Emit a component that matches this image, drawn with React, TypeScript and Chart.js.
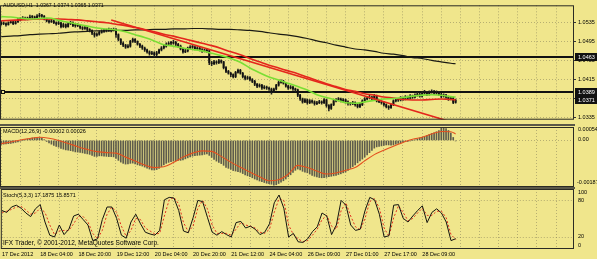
import React, { useEffect, useRef } from 'react';
import { Chart, registerables } from 'chart.js';
Chart.register(...registerables);

const FONT = '"Liberation Sans", Arial, sans-serif';
const BG = '#F0E68C';
const GRID = 'rgba(125,120,85,0.5)';
const SEP = '#5a5848';

// ---------- main window (AUDUSD H1) ----------
const symbolTitle = 'AUDUSD,H1  1.0367 1.0374 1.0365 1.0371';
const firstOpen = 1.0531;
const closes = [
  1.0534, 1.0532, 1.0530, 1.0534, 1.0536, 1.0532, 1.0536, 1.0540, 1.0542, 1.0544,
  1.0542, 1.0544, 1.0546, 1.0546, 1.0544, 1.0548, 1.0550, 1.0548, 1.0542, 1.0538,
  1.0536, 1.0538, 1.0534, 1.0532, 1.0534, 1.0526, 1.0530, 1.0526, 1.0532, 1.0534,
  1.0528, 1.0530, 1.0528, 1.0524, 1.0522, 1.0524, 1.0520, 1.0518, 1.0512, 1.0508,
  1.0510, 1.0514, 1.0516, 1.0518, 1.0518, 1.0520, 1.0518, 1.0520, 1.0509, 1.0499,
  1.0491, 1.0487, 1.0483, 1.0485, 1.0495, 1.0499, 1.0495, 1.0489, 1.0485, 1.0481,
  1.0477, 1.0473, 1.0469, 1.0471, 1.0467, 1.0471, 1.0477, 1.0481, 1.0485, 1.0489,
  1.0491, 1.0491, 1.0493, 1.0489, 1.0485, 1.0479, 1.0473, 1.0475, 1.0481, 1.0483,
  1.0483, 1.0479, 1.0481, 1.0477, 1.0475, 1.0477, 1.0475, 1.0450, 1.0448, 1.0452,
  1.0450, 1.0454, 1.0452, 1.0440, 1.0432, 1.0428, 1.0425, 1.0421, 1.0430, 1.0434,
  1.0428, 1.0421, 1.0417, 1.0419, 1.0415, 1.0411, 1.0405, 1.0401, 1.0403, 1.0397,
  1.0399, 1.0397, 1.0395, 1.0389, 1.0395, 1.0403, 1.0409, 1.0411, 1.0407, 1.0401,
  1.0397, 1.0399, 1.0395, 1.0393, 1.0382, 1.0374, 1.0368, 1.0372, 1.0366, 1.0370,
  1.0368, 1.0364, 1.0366, 1.0368, 1.0366, 1.0372, 1.0360, 1.0354, 1.0362, 1.0370,
  1.0372, 1.0374, 1.0370, 1.0372, 1.0368, 1.0364, 1.0364, 1.0366, 1.0362, 1.0358,
  1.0362, 1.0370, 1.0374, 1.0376, 1.0378, 1.0374, 1.0380, 1.0370, 1.0368, 1.0366,
  1.0362, 1.0358, 1.0356, 1.0362, 1.0370, 1.0372, 1.0372, 1.0376, 1.0374, 1.0378,
  1.0376, 1.0380, 1.0378, 1.0382, 1.0384, 1.0380, 1.0386, 1.0388, 1.0384, 1.0388,
  1.0390, 1.0386, 1.0388, 1.0384, 1.0380, 1.0382, 1.0378, 1.0374, 1.0376, 1.0367,
  1.0371,
];
const highs = [
  1.0537, 1.0536, 1.0534, 1.0536, 1.0539, 1.0538, 1.0538, 1.0543, 1.0545, 1.0547,
  1.0546, 1.0546, 1.0550, 1.0549, 1.0548, 1.0551, 1.0554, 1.0552, 1.0549, 1.0544,
  1.0540, 1.0541, 1.0540, 1.0536, 1.0537, 1.0535, 1.0533, 1.0532, 1.0535, 1.0537,
  1.0536, 1.0533, 1.0532, 1.0531, 1.0526, 1.0527, 1.0526, 1.0522, 1.0519, 1.0514,
  1.0513, 1.0517, 1.0519, 1.0521, 1.0521, 1.0523, 1.0522, 1.0523, 1.0522, 1.0511,
  1.0501, 1.0494, 1.0489, 1.0488, 1.0497, 1.0502, 1.0501, 1.0496, 1.0491, 1.0487,
  1.0483, 1.0479, 1.0475, 1.0474, 1.0473, 1.0474, 1.0479, 1.0484, 1.0488, 1.0492,
  1.0494, 1.0495, 1.0497, 1.0495, 1.0491, 1.0487, 1.0481, 1.0478, 1.0483, 1.0486,
  1.0486, 1.0485, 1.0484, 1.0483, 1.0480, 1.0479, 1.0480, 1.0477, 1.0453, 1.0455,
  1.0454, 1.0457, 1.0456, 1.0453, 1.0442, 1.0434, 1.0430, 1.0427, 1.0432, 1.0437,
  1.0436, 1.0430, 1.0423, 1.0422, 1.0421, 1.0417, 1.0413, 1.0407, 1.0406, 1.0405,
  1.0402, 1.0401, 1.0399, 1.0397, 1.0397, 1.0405, 1.0412, 1.0414, 1.0413, 1.0409,
  1.0403, 1.0402, 1.0401, 1.0397, 1.0395, 1.0384, 1.0376, 1.0375, 1.0374, 1.0373,
  1.0372, 1.0370, 1.0369, 1.0371, 1.0370, 1.0375, 1.0374, 1.0362, 1.0364, 1.0372,
  1.0375, 1.0377, 1.0376, 1.0375, 1.0374, 1.0370, 1.0367, 1.0369, 1.0368, 1.0364,
  1.0365, 1.0372, 1.0377, 1.0379, 1.0382, 1.0380, 1.0384, 1.0382, 1.0372, 1.0370,
  1.0368, 1.0364, 1.0360, 1.0364, 1.0372, 1.0375, 1.0375, 1.0379, 1.0378, 1.0381,
  1.0380, 1.0383, 1.0382, 1.0385, 1.0388, 1.0386, 1.0389, 1.0392, 1.0390, 1.0391,
  1.0393, 1.0392, 1.0391, 1.0390, 1.0386, 1.0385, 1.0384, 1.0380, 1.0379, 1.0378,
  1.0374,
];
const lows = [
  1.0529, 1.0530, 1.0527, 1.0529, 1.0533, 1.0530, 1.0531, 1.0535, 1.0538, 1.0541,
  1.0540, 1.0540, 1.0543, 1.0543, 1.0542, 1.0543, 1.0546, 1.0545, 1.0540, 1.0536,
  1.0533, 1.0535, 1.0532, 1.0529, 1.0530, 1.0523, 1.0524, 1.0523, 1.0525, 1.0530,
  1.0526, 1.0525, 1.0526, 1.0521, 1.0519, 1.0520, 1.0517, 1.0515, 1.0509, 1.0504,
  1.0506, 1.0508, 1.0512, 1.0514, 1.0515, 1.0516, 1.0515, 1.0517, 1.0503, 1.0496,
  1.0488, 1.0484, 1.0480, 1.0481, 1.0483, 1.0493, 1.0492, 1.0487, 1.0482, 1.0478,
  1.0474, 1.0470, 1.0466, 1.0467, 1.0463, 1.0465, 1.0469, 1.0475, 1.0479, 1.0483,
  1.0487, 1.0488, 1.0489, 1.0486, 1.0483, 1.0477, 1.0470, 1.0471, 1.0473, 1.0479,
  1.0480, 1.0477, 1.0477, 1.0475, 1.0472, 1.0473, 1.0472, 1.0446, 1.0444, 1.0446,
  1.0447, 1.0448, 1.0449, 1.0437, 1.0429, 1.0426, 1.0421, 1.0418, 1.0419, 1.0428,
  1.0426, 1.0418, 1.0414, 1.0415, 1.0412, 1.0408, 1.0402, 1.0398, 1.0399, 1.0394,
  1.0395, 1.0394, 1.0392, 1.0384, 1.0387, 1.0393, 1.0401, 1.0407, 1.0405, 1.0399,
  1.0394, 1.0395, 1.0392, 1.0390, 1.0379, 1.0371, 1.0365, 1.0366, 1.0363, 1.0364,
  1.0365, 1.0361, 1.0362, 1.0364, 1.0363, 1.0364, 1.0357, 1.0349, 1.0352, 1.0360,
  1.0368, 1.0370, 1.0368, 1.0368, 1.0365, 1.0361, 1.0361, 1.0362, 1.0359, 1.0355,
  1.0356, 1.0360, 1.0368, 1.0372, 1.0374, 1.0372, 1.0372, 1.0368, 1.0366, 1.0363,
  1.0359, 1.0355, 1.0352, 1.0354, 1.0360, 1.0368, 1.0369, 1.0370, 1.0371, 1.0372,
  1.0373, 1.0374, 1.0375, 1.0376, 1.0380, 1.0378, 1.0378, 1.0384, 1.0381, 1.0382,
  1.0386, 1.0384, 1.0384, 1.0381, 1.0377, 1.0378, 1.0375, 1.0371, 1.0372, 1.0364,
  1.0365,
];
// moving averages, one value every 4 bars (last = final bar)
const maGreen = [
  1.0547, 1.0546, 1.0544, 1.0542, 1.0543, 1.0544, 1.0539, 1.0535, 1.0531, 1.0527,
  1.0523, 1.0521, 1.0519, 1.0515, 1.0509, 1.0503, 1.0496, 1.0488, 1.0485, 1.0481,
  1.0478, 1.0475, 1.0470, 1.0465, 1.0459, 1.0451, 1.0439, 1.0429, 1.0420, 1.0414,
  1.0407, 1.0400, 1.0393, 1.0383, 1.0377, 1.0372, 1.0366, 1.0365, 1.0368, 1.0371,
  1.0374, 1.0375, 1.0377, 1.0380, 1.0382, 1.0383, 1.0382, 1.0379, 1.0378,
];
const maRed = [
  1.0538, 1.0539, 1.0540, 1.0541, 1.0542, 1.0542, 1.0542, 1.0541, 1.0540, 1.0538,
  1.0536, 1.0534, 1.0531, 1.0528, 1.0524, 1.0520, 1.0515, 1.0510, 1.0506, 1.0501,
  1.0496, 1.0491, 1.0486, 1.0480, 1.0473, 1.0467, 1.0459, 1.0452, 1.0445, 1.0439,
  1.0433, 1.0427, 1.0420, 1.0413, 1.0406, 1.0400, 1.0394, 1.0390, 1.0385, 1.0382,
  1.0378, 1.0376, 1.0373, 1.0372, 1.0372, 1.0373, 1.0374, 1.0373, 1.0372,
];
const maBlack = [
  1.0505, 1.0506, 1.0507, 1.0509, 1.0510, 1.0511, 1.0512, 1.0514, 1.0515, 1.0516,
  1.0517, 1.0517, 1.0518, 1.0518, 1.0519, 1.0519, 1.0520, 1.0520, 1.0521, 1.0521,
  1.0522, 1.0522, 1.0521, 1.0520, 1.0520, 1.0519, 1.0518, 1.0516, 1.0513, 1.0510,
  1.0508, 1.0505, 1.0501, 1.0496, 1.0492, 1.0487, 1.0483, 1.0479, 1.0477, 1.0474,
  1.0470, 1.0468, 1.0465, 1.0461, 1.0459, 1.0455, 1.0452, 1.0449, 1.0448,
];
const trendBars = [46, 190];
const trendPrices = [1.0540, 1.0323];
const hLevels = [1.0463, 1.0389];
const priceTags = [1.0463, 1.0389, 1.0371];
const priceTicks = [1.0535, 1.0495, 1.0455, 1.0415, 1.0375, 1.0335];
const priceMin = 1.03305;
const priceMax = 1.05707;

// ---------- time axis ----------
const timeTicks = [
  '17 Dec 2012', '18 Dec 04:00', '18 Dec 20:00', '19 Dec 12:00', '20 Dec 04:00', '20 Dec 20:00',
  '21 Dec 12:00', '24 Dec 04:00', '26 Dec 09:00', '27 Dec 01:00', '27 Dec 17:00', '28 Dec 09:00',
];
const SLOTS = 240;

// ---------- MACD ----------
const macdTitle = 'MACD(12,26,9) -0.00002 0.00026';
const macdHist = [
  -0.00016, -0.00015, -0.00014, -0.00013, -0.00012, -0.0001, -0.00008, -0.00006, -0.00003, 0,
  0.00003, 0.00006, 0.00008, 0.0001, 0.00011, 0.00012, 0.00011, 0.00008, 0.00003, -0.00004,
  -0.0001, -0.00015, -0.0002, -0.00024, -0.00027, -0.00032, -0.00035, -0.00038, -0.00039, -0.00041,
  -0.00043, -0.00046, -0.00047, -0.00048, -0.0005, -0.00052, -0.00054, -0.00056, -0.0006, -0.00064,
  -0.00064, -0.00062, -0.00062, -0.00063, -0.00064, -0.00065, -0.00065, -0.00066, -0.00072, -0.0008,
  -0.00087, -0.00092, -0.00095, -0.00094, -0.00092, -0.00091, -0.00094, -0.00098, -0.001, -0.00103,
  -0.00107, -0.00111, -0.00115, -0.00118, -0.00119, -0.00117, -0.00112, -0.00105, -0.00098, -0.00092,
  -0.00088, -0.00085, -0.00083, -0.00081, -0.0008, -0.0008, -0.00078, -0.00074, -0.0007, -0.00066,
  -0.00063, -0.00061, -0.0006, -0.00059, -0.00058, -0.00056, -0.00054, -0.0006, -0.00068, -0.00076,
  -0.00083, -0.00088, -0.00093, -0.001, -0.00108, -0.00112, -0.00116, -0.00121, -0.00123, -0.00125,
  -0.00128, -0.00133, -0.00138, -0.00142, -0.00146, -0.0015, -0.00155, -0.00159, -0.00163, -0.00166,
  -0.00169, -0.00172, -0.00174, -0.00176, -0.0018, -0.00178, -0.00173, -0.00168, -0.00162, -0.00155,
  -0.00146, -0.00138, -0.00128, -0.0012, -0.00115, -0.00118, -0.00124, -0.00127, -0.0013, -0.00135,
  -0.0014, -0.00144, -0.00147, -0.00149, -0.0015, -0.0015, -0.00148, -0.00146, -0.00144, -0.00142,
  -0.0014, -0.00137, -0.00134, -0.0013, -0.00127, -0.0012, -0.00112, -0.00105, -0.00098, -0.0009,
  -0.00082, -0.00075, -0.00067, -0.00058, -0.00049, -0.0004, -0.00031, -0.00026, -0.00024, -0.00022,
  -0.0002, -0.00018, -0.00018, -0.00019, -0.00018, -0.00015, -0.00012, -0.0001, -0.00007, -0.00005,
  -0.00004, -0.00002, 0, 0.00002, 0.00006, 0.0001, 0.00013, 0.00016, 0.0002, 0.00024,
  0.00028, 0.00031, 0.00035, 0.0004, 0.00054, 0.0005, 0.00048, 0.0004, 0.0003, 0.00012,
  -0.00002,
];
const macdSignal = [
  -0.00013, -0.00006, 0.00002, 0.00008, 0.00013, 0.00009, 0, -0.00012, -0.00025, -0.00036,
  -0.00045, -0.00049, -0.00051, -0.00067, -0.00083, -0.00099, -0.00109, -0.00106, -0.00089, -0.00067,
  -0.00051, -0.00042, -0.00044, -0.00064, -0.00087, -0.00108, -0.00127, -0.00146, -0.00162, -0.00158,
  -0.00136, -0.001, -0.00109, -0.00123, -0.00135, -0.00131, -0.0012, -0.00109, -0.00082, -0.00057,
  -0.00039, -0.00023, -0.00008, 0.00005, 0.00013, 0.00026, 0.00036, 0.00035, 0.00026,
];
const macdMax = 0.00054;
const macdMin = -0.00187;

// ---------- Stochastic ----------
const stochTitle = 'Stoch(5,3,3) 17.1875 15.8571';
const copyright = 'IFX Trader, © 2001-2012, MetaQuotes Software Corp.';
// one value every 2 bars (last = final bar)
const stochK = [
  64, 61, 70, 73, 68, 60, 54, 67, 74, 45, 23, 20, 40, 24, 33, 55, 58, 49, 40, 14,
  17, 49, 70, 70, 51, 23, 18, 45, 58, 42, 28, 25, 23, 31, 82, 86, 85, 64, 30, 27,
  52, 81, 79, 53, 28, 23, 29, 24, 20, 44, 46, 35, 38, 33, 24, 28, 42, 77, 90, 68,
  20, 26, 12, 11, 17, 29, 37, 60, 55, 24, 40, 81, 73, 40, 31, 33, 64, 86, 82, 58,
  20, 22, 73, 74, 51, 45, 55, 64, 72, 44, 61, 67, 60, 45, 14, 17.1875,
];
const stochD = [
  61, 63, 66, 70, 71, 65, 58, 60, 68, 61, 40, 24, 30, 31, 31, 42, 55, 54, 45, 26,
  17, 31, 58, 70, 61, 38, 21, 31, 51, 49, 35, 30, 25, 26, 55, 82, 86, 75, 44, 29,
  38, 68, 81, 67, 40, 26, 26, 26, 23, 33, 44, 40, 38, 35, 28, 26, 33, 61, 84, 81,
  40, 24, 17, 12, 14, 23, 33, 49, 56, 38, 33, 64, 77, 55, 37, 32, 51, 79, 84, 68,
  35, 21, 52, 72, 61, 47, 51, 60, 68, 56, 56, 63, 63, 52, 24, 15.8571,
];
const stochLevels = [20, 80];

// ---------- derived tables for the library ----------
const BARS = closes.length;
const categories = Array.from({ length: SLOTS }, (_, i) =>
  i % 16 === 0 && timeTicks[i / 16] ? timeTicks[i / 16] : ''
);
const opens = closes.map((c, i) => (i === 0 ? firstOpen : closes[i - 1]));
const wickData = closes.map((_, i) => [lows[i], highs[i]]);
const bodyData = closes.map((c, i) => [Math.min(opens[i], c), Math.max(opens[i], c)]);
const spread = (vals: number[], stride: number) => {
  const a: (number | null)[] = new Array(BARS).fill(null);
  vals.forEach((v, k) => {
    a[Math.min(k * stride, BARS - 1)] = v;
  });
  return a;
};
const trendData = (() => {
  const a: (number | null)[] = new Array(BARS).fill(null);
  trendBars.forEach((b, k) => (a[b] = trendPrices[k]));
  return a;
})();

function txt(ctx: CanvasRenderingContext2D, s: string, x: number, y: number, size: number, color = '#000') {
  ctx.font = `${size}px ${FONT}`;
  ctx.fillStyle = color;
  ctx.textAlign = 'left';
  ctx.textBaseline = 'middle';
  ctx.fillText(s, x, y);
}
function frame(chart: any) {
  const { ctx, chartArea: a } = chart;
  ctx.save();
  ctx.strokeStyle = '#2b2b24';
  ctx.lineWidth = 1;
  ctx.strokeRect(a.left + 0.5, a.top + 0.5, a.right - a.left - 1, a.bottom - a.top - 1);
  ctx.restore();
}

const xScale = (showLabels: boolean) => ({
  type: 'category',
  offset: true,
  grid: {
    display: true,
    offset: false,
    drawTicks: false,
    color: (c: any) => (c.index % 8 === 0 ? GRID : 'rgba(0,0,0,0)'),
  },
  border: { display: false, dash: [1, 2] },
  ticks: {
    display: showLabels,
    autoSkip: false,
    maxRotation: 0,
    minRotation: 0,
    align: 'start',
    padding: 2,
    color: '#000',
    font: { family: FONT, size: 5.5 },
    callback: (_v: any, i: number) => categories[i],
  },
  afterFit: (s: any) => {
    s.height = showLabels ? 10 : 0;
  },
});

const baseOpts = {
  responsive: false,
  maintainAspectRatio: false,
  animation: false,
  devicePixelRatio: 1,
  events: [],
  plugins: { legend: { display: false }, tooltip: { enabled: false } },
};

function makeMain(canvas: HTMLCanvasElement) {
  return new Chart(canvas, {
    type: 'bar',
    data: {
      labels: categories,
      datasets: [
        { type: 'line', data: trendData, borderColor: '#E4261C', borderWidth: 1.6, pointRadius: 0, spanGaps: true, order: 0 },
        { type: 'line', data: spread(maGreen, 4), borderColor: '#7ADE34', borderWidth: 1.6, pointRadius: 0, spanGaps: true, cubicInterpolationMode: 'monotone', order: 1 },
        { type: 'line', data: spread(maRed, 4), borderColor: '#E4261C', borderWidth: 1.6, pointRadius: 0, spanGaps: true, cubicInterpolationMode: 'monotone', order: 2 },
        { type: 'line', data: spread(maBlack, 4), borderColor: '#1a1a14', borderWidth: 1.2, pointRadius: 0, spanGaps: true, cubicInterpolationMode: 'monotone', order: 3 },
        { type: 'bar', data: bodyData, backgroundColor: '#111', barThickness: 1.2, minBarLength: 1, grouped: false, order: 4 },
        { type: 'bar', data: wickData, backgroundColor: '#222', barThickness: 0.9, grouped: false, order: 5 },
      ],
    } as any,
    options: {
      ...baseOpts,
      layout: { padding: { top: 1, bottom: 1, left: 0, right: 0 } },
      scales: {
        x: xScale(false),
        y: {
          position: 'right',
          min: priceMin,
          max: priceMax,
          afterBuildTicks: (s: any) => {
            s.ticks = priceTicks.map((v) => ({ value: v }));
          },
          ticks: { color: '#000', padding: 2, font: { family: FONT, size: 5.5 }, callback: (v: any) => Number(v).toFixed(4) },
          grid: { color: GRID, drawTicks: true, tickLength: 2, tickColor: '#333', tickBorderDash: [] },
          border: { display: false, dash: [1, 2] },
          afterFit: (s: any) => {
            s.width = 23;
          },
        },
      },
    } as any,
    plugins: [
      {
        id: 'mainDecor',
        beforeDatasetsDraw(chart: any) {
          const { ctx, chartArea: a, scales } = chart;
          ctx.save();
          ctx.strokeStyle = '#111';
          ctx.lineWidth = 2;
          hLevels.forEach((v) => {
            const y = Math.round(scales.y.getPixelForValue(v));
            ctx.beginPath();
            ctx.moveTo(a.left, y);
            ctx.lineTo(a.right, y);
            ctx.stroke();
          });
          const y2 = Math.round(scales.y.getPixelForValue(hLevels[1]));
          ctx.lineWidth = 1;
          ctx.fillStyle = BG;
          ctx.fillRect(1, y2 - 2, 4, 4);
          ctx.strokeRect(1.5, y2 - 1.5, 3, 3);
          ctx.restore();
        },
        afterDraw(chart: any) {
          const { ctx, scales, chartArea: a } = chart;
          frame(chart);
          ctx.save();
          txt(ctx, symbolTitle, 3, 6, 5.2);
          priceTags.forEach((v) => {
            const y = Math.round(scales.y.getPixelForValue(v));
            ctx.fillStyle = '#111';
            ctx.fillRect(a.right + 1, y - 4, 22, 8);
            txt(ctx, v.toFixed(4), a.right + 4, y + 0.5, 5.5, '#fff');
          });
          ctx.restore();
        },
      },
    ],
  });
}

function makeMacd(canvas: HTMLCanvasElement) {
  return new Chart(canvas, {
    type: 'bar',
    data: {
      labels: categories,
      datasets: [
        { type: 'line', data: spread(macdSignal, 4), borderColor: '#E3501F', borderWidth: 1.1, pointRadius: 0, spanGaps: true, cubicInterpolationMode: 'monotone', order: 0 },
        { type: 'bar', data: macdHist, backgroundColor: '#5e5c4c', barThickness: 1, grouped: false, order: 1 },
      ],
    } as any,
    options: {
      ...baseOpts,
      layout: { padding: { top: 1, bottom: 1, left: 0, right: 0 } },
      scales: {
        x: xScale(false),
        y: {
          position: 'right',
          min: macdMin,
          max: macdMax,
          afterBuildTicks: (s: any) => {
            s.ticks = [{ value: 0 }];
          },
          ticks: { display: false },
          grid: { color: GRID, drawTicks: false },
          border: { display: false, dash: [1, 2] },
          afterFit: (s: any) => {
            s.width = 23;
          },
        },
      },
    } as any,
    plugins: [
      {
        id: 'macdDecor',
        afterDraw(chart: any) {
          const { ctx, scales, chartArea: a } = chart;
          frame(chart);
          ctx.save();
          txt(ctx, macdTitle, 3, a.top + 4.5, 5.5);
          txt(ctx, macdMax.toFixed(5), a.right + 4, a.top + 2.5, 5.5);
          txt(ctx, '0.00', a.right + 4, scales.y.getPixelForValue(0) - 1, 5.5);
          txt(ctx, macdMin.toFixed(5), a.right + 3, a.bottom - 5, 5.5);
          ctx.restore();
        },
      },
    ],
  });
}

function makeStoch(canvas: HTMLCanvasElement) {
  return new Chart(canvas, {
    type: 'line',
    data: {
      labels: categories,
      datasets: [
        { data: spread(stochK, 2), borderColor: '#141410', borderWidth: 1, pointRadius: 0, spanGaps: true, order: 0 },
        { data: spread(stochD, 2), borderColor: '#E0301E', borderWidth: 1, borderDash: [2, 2], pointRadius: 0, spanGaps: true, order: 1 },
      ],
    } as any,
    options: {
      ...baseOpts,
      layout: { padding: { top: 0, bottom: 0, left: 0, right: 0 } },
      scales: {
        x: xScale(true),
        y: {
          position: 'right',
          min: 0,
          max: 100,
          afterBuildTicks: (s: any) => {
            s.ticks = stochLevels.map((v) => ({ value: v }));
          },
          ticks: { display: false },
          grid: { color: GRID, drawTicks: false },
          border: { display: false, dash: [1, 2] },
          afterFit: (s: any) => {
            s.width = 23;
          },
        },
      },
    } as any,
    plugins: [
      {
        id: 'stochDecor',
        afterDraw(chart: any) {
          const { ctx, scales, chartArea: a } = chart;
          frame(chart);
          ctx.save();
          txt(ctx, stochTitle, 3, a.top + 6, 5.5);
          txt(ctx, copyright, 3, a.bottom - 5.5, 6.5);
          txt(ctx, '100', a.right + 4, a.top + 3.5, 5.5);
          stochLevels
            .slice()
            .reverse()
            .forEach((v) => txt(ctx, String(v), a.right + 4, scales.y.getPixelForValue(v) - 1, 5.5));
          txt(ctx, '0', a.right + 4, a.bottom - 4, 5.5);
          ctx.restore();
        },
      },
    ],
  });
}

export default function App() {
  const mainRef = useRef<HTMLCanvasElement>(null);
  const macdRef = useRef<HTMLCanvasElement>(null);
  const stochRef = useRef<HTMLCanvasElement>(null);

  useEffect(() => {
    const charts = [
      makeMain(mainRef.current as HTMLCanvasElement),
      makeMacd(macdRef.current as HTMLCanvasElement),
      makeStoch(stochRef.current as HTMLCanvasElement),
    ];
    return () => charts.forEach((c) => c.destroy());
  }, []);

  const abs = (top: number, height: number): React.CSSProperties => ({
    position: 'absolute',
    left: 0,
    top,
    width: 597,
    height,
    display: 'block',
  });

  return (
    <div style={{ position: 'relative', width: 597, height: 259, background: BG, overflow: 'hidden' }}>
      <style>{'body{margin:0}'}</style>
      <canvas ref={mainRef} width={597} height={125} style={abs(0, 125)} />
      <canvas ref={macdRef} width={597} height={62} style={abs(126, 62)} />
      <canvas ref={stochRef} width={597} height={70} style={abs(189, 70)} />
      <div style={{ position: 'absolute', left: 0, top: 124, width: 575, height: 2, background: SEP }} />
      <div style={{ position: 'absolute', left: 0, top: 187, width: 575, height: 2, background: SEP }} />
    </div>
  );
}
